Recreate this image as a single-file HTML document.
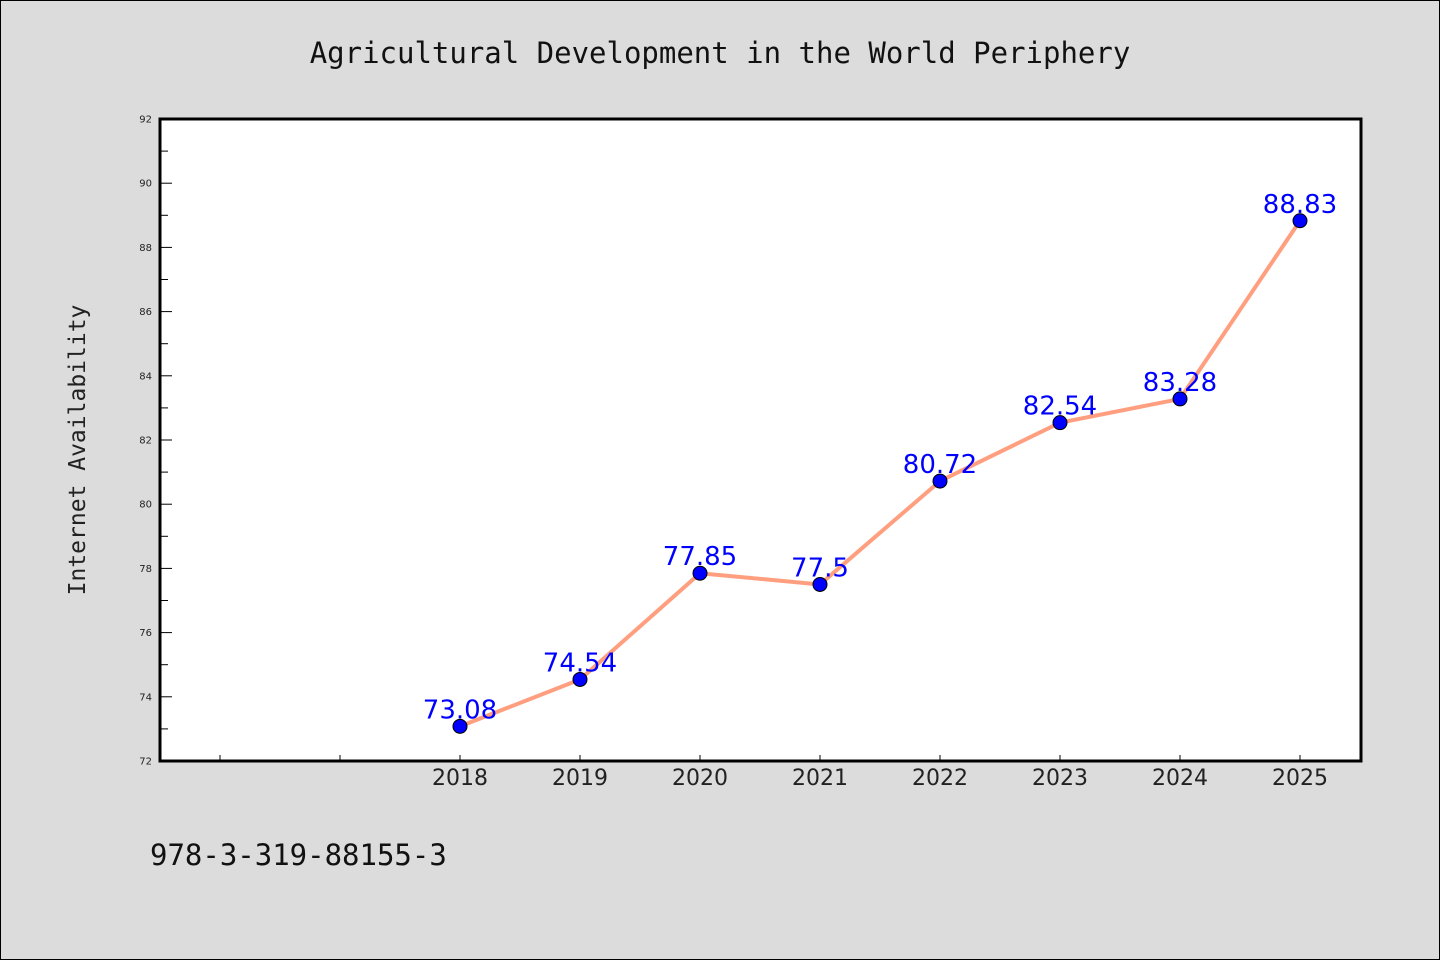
<!DOCTYPE html>
<html><head><meta charset="utf-8"><style>
body{margin:0;background:#dcdcdc;}
svg{display:block;font-family:"DejaVu Sans","Liberation Sans",sans-serif;}
</style></head><body>
<svg id="chart" width="1440" height="960" xmlns="http://www.w3.org/2000/svg">
<rect x="0.5" y="0.5" width="1439" height="959" fill="#dcdcdc" stroke="#000" stroke-width="1"/>
<text x="720" y="63" text-anchor="middle" font-family="'DejaVu Sans Mono','WenQuanYi Zen Hei',monospace" font-size="29" fill="#111">Agricultural Development in the World Periphery</text>
<rect x="160" y="119" width="1201" height="642" fill="#fff"/>
<g id="axes"></g>
<g id="series"></g>
<rect x="160" y="119" width="1201" height="642" fill="none" stroke="#000" stroke-width="3"/>
<text transform="translate(85,450) rotate(-90)" text-anchor="middle" font-family="'DejaVu Sans Mono','WenQuanYi Zen Hei',monospace" font-size="23" fill="#222">Internet Availability</text>
<text x="150" y="865" font-family="'DejaVu Sans Mono','WenQuanYi Zen Hei',monospace" font-size="29" fill="#111">978-3-319-88155-3</text>
</svg>
<script>
const categories = ["", "", "2018", "2019", "2020", "2021", "2022", "2023", "2024", "2025"];
const values = [null, null, 73.08, 74.54, 77.85, 77.5, 80.72, 82.54, 83.28, 88.83];
const valueLabels = ["", "", "73.08", "74.54", "77.85", "77.5", "80.72", "82.54", "83.28", "88.83"];
const yTicks = [72, 74, 76, 78, 80, 82, 84, 86, 88, 90, 92];
const yMin = 72, yMax = 92;
const px0 = 160, px1 = 1361, py0 = 761, py1 = 119;
function xs(i){ return px0 + 60 + 120 * i; }
function ys(v){ return py0 - (v - yMin) / (yMax - yMin) * (py0 - py1); }
const NS = "http://www.w3.org/2000/svg";
function mk(tag, attrs, parent){ const e = document.createElementNS(NS, tag); for (const k in attrs) e.setAttribute(k, attrs[k]); parent.appendChild(e); return e; }
const axes = document.getElementById("axes"), series = document.getElementById("series");
yTicks.forEach((t, i) => {
  const y = ys(t);
  const tk = mk("line", {x1: px0, x2: px0 + 12, y1: y, y2: y, stroke: "#000", "stroke-width": 1}, axes);
  
  
  const lb = mk("text", {x: 152, y: y + 3.5, "text-anchor": "end", "font-size": 10, fill: "#222"}, axes);
  lb.textContent = t;
  
  
  if (i < yTicks.length - 1) {
    const my = ys(t + 1);
    const mt = mk("line", {x1: px0, x2: px0 + 8, y1: my, y2: my, stroke: "#000", "stroke-width": 1}, axes);
    
    
  }
});
categories.forEach((c, i) => {
  const x = xs(i);
  const tk = mk("line", {x1: x, x2: x, y1: py0, y2: py0 - 6, stroke: "#000", "stroke-width": 1}, axes);
  
  
  if (c) {
    const lb = mk("text", {x: x, y: py0 + 24, "text-anchor": "middle", "font-size": 22, fill: "#222"}, axes);
    lb.textContent = c;
    
    
  }
});
let d = "";
values.forEach((v, i) => { if (v == null) return; d += (d ? "L" : "M") + xs(i) + "," + ys(v); });
const line = mk("path", {d: d, fill: "none", stroke: "#ff9f7f", "stroke-width": 4, "stroke-linejoin": "round"}, series);


values.forEach((v, i) => {
  if (v == null) return;
  const lb = mk("text", {x: xs(i), y: ys(v) - 8, "text-anchor": "middle", "font-size": 26, fill: "#0000ff"}, series);
  lb.textContent = valueLabels[i];
  
  
});
values.forEach((v, i) => {
  if (v == null) return;
  const c = mk("circle", {cx: xs(i), cy: ys(v), r: 7, fill: "#0000ff", stroke: "#000", "stroke-width": 1}, series);
  
  
});
</script>
</body></html>
